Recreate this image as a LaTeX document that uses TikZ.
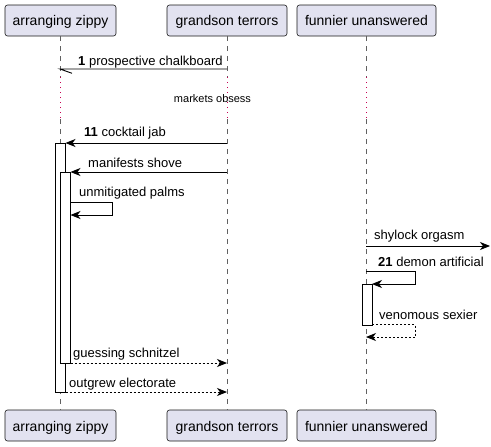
\documentclass[tikz,border=0pt]{standalone}
\usepackage{fontspec}
\setmainfont{Liberation Sans}
\usetikzlibrary{arrows.meta}
\definecolor{partfill}{HTML}{E2E2F0}
\definecolor{partdraw}{HTML}{181818}
\definecolor{delayred}{rgb}{0.78,0,0.32}
\tikzset{
  participant/.style={draw=partdraw, fill=partfill, rounded corners=2.5pt, minimum height=31pt, inner sep=0pt,
    font=\fontsize{14}{16}\selectfont, text height=12pt, text depth=1pt, line width=0.6pt},
  lifeline/.style={draw=gray!75!black, line width=0.5pt, dash pattern=on 5pt off 5pt},
  delayline/.style={draw=delayred, line width=1pt, dash pattern=on 1pt off 4pt},
  msgline/.style={line width=0.9pt},
  msg/.style={msgline, -{Stealth[length=10pt,width=8pt,inset=3pt]}},
  reply/.style={msg, dash pattern=on 2pt off 2pt},
  lbl/.style={anchor=base west, inner sep=0pt, font=\fontsize{13}{15}\selectfont},
  act/.style={draw=black, fill=white, line width=0.8pt, minimum width=10pt, inner sep=0pt},
}
\begin{document}
\begin{tikzpicture}[x=1pt,y=-1pt]
\useasboundingbox (0,0) rectangle (491,447);
% participants
\node[participant, minimum width=111pt] (a1) at (60.5,20.5) {arranging zippy};
\node[participant, minimum width=120pt] (b1) at (227,20.5) {grandson terrors};
\node[participant, minimum width=139pt] (c1) at (366.5,20.5) {funnier unanswered};
\node[participant, minimum width=111pt] (a2) at (60.5,425.5) {arranging zippy};
\node[participant, minimum width=120pt] (b2) at (227,425.5) {grandson terrors};
\node[participant, minimum width=139pt] (c2) at (366.5,425.5) {funnier unanswered};
% delay band
\coordinate (dtop) at (0,77);
\coordinate (dbot) at (0,119);
\coordinate (xa) at (60,0);
\coordinate (xb) at (227,0);
\coordinate (xc) at (366,0);
\foreach \p/\q/\x in {a1/a2/xa, b1/b2/xb, c1/c2/xc}{
  \draw[lifeline] (\x |- \p.south) -- (\x |- dtop);
  \draw[delayline] (\x |- dtop) -- (\x |- dbot);
  \draw[lifeline] (\x |- dbot) -- (\x |- \q.north);
}
\node[font=\fontsize{11}{13}\selectfont, inner sep=0pt] (delay) at (212.5,99) {markets obsess};
% activations
\node[act, minimum height=249pt] (act1) at (60.25,267.5) {};
\node[act, minimum height=191pt] (act2) at (65.5,267.5) {};
\node[act, minimum height=41pt] (act3) at (367,304.5) {};
% message 1 (half arrow)
\coordinate (m1s) at (227,69);
\coordinate (m1e) at (60,69);
\coordinate (m1h) at (72,73.3);
\draw[msgline] (m1s) -- (m1e) -- (m1h);
\node[lbl] (l1) at (78,65) {\textbf{1} prospective chalkboard};
% message 11
\coordinate (m11s) at (227,143);
\coordinate (m11e) at (65.5,143);
\draw[msg] (m11s) -- (m11e);
\node[lbl] (l11) at (84,136) {\textbf{11} cocktail jab};
% manifests shove
\coordinate (m12s) at (227,172);
\coordinate (m12e) at (70.5,172);
\draw[msg] (m12s) -- (m12e);
\node[lbl] (l12) at (88,167) {manifests shove};
% unmitigated palms (self)
\coordinate (m13s) at (70.5,202);
\coordinate (m13a) at (112,202);
\coordinate (m13b) at (112,215);
\coordinate (m13e) at (70.5,215);
\draw[msg] (m13s) -- (m13a) -- (m13b) -- (m13e);
\node[lbl] (l13) at (79,196) {unmitigated palms};
% shylock orgasm
\coordinate (m14s) at (366,246);
\coordinate (m14e) at (490,246);
\draw[msg] (m14s) -- (m14e);
\node[lbl] (l14) at (374,239.5) {shylock orgasm};
% 21 demon artificial (self)
\coordinate (m21s) at (366,271.5);
\coordinate (m21a) at (415,271.5);
\coordinate (m21b) at (415,284);
\coordinate (m21e) at (372,284);
\draw[msg] (m21s) -- (m21a) -- (m21b) -- (m21e);
\node[lbl] (l21) at (378,266) {\textbf{21} demon artificial};
% venomous sexier (self reply)
\coordinate (m22s) at (372,324.5);
\coordinate (m22a) at (415,324.5);
\coordinate (m22b) at (415,337);
\coordinate (m22e) at (366,337);
\draw[reply] (m22s) -- (m22a) -- (m22b) -- (m22e);
\node[lbl] (l22) at (379,319) {venomous sexier};
% guessing schnitzel
\coordinate (m23s) at (70.5,363);
\coordinate (m23e) at (227,363);
\draw[reply] (m23s) -- (m23e);
\node[lbl] (l23) at (73,357) {guessing schnitzel};
% outgrew electorate
\coordinate (m24s) at (65.5,392);
\coordinate (m24e) at (227,392);
\draw[reply] (m24s) -- (m24e);
\node[lbl] (l24) at (69,387) {outgrew electorate};
\end{tikzpicture}
\end{document}
